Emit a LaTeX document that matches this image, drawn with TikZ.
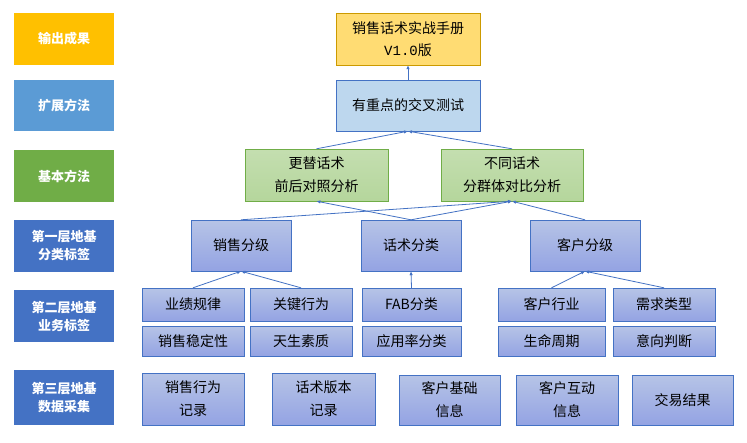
\documentclass[tikz,border=0pt]{standalone}
\usepackage{fontspec}
\setmainfont{Noto Sans CJK SC}
\newfontfamily\monof{Liberation Mono}
\usetikzlibrary{arrows.meta}
\definecolor{lorange}{HTML}{FFC000}
\definecolor{lblue}{HTML}{5B9BD5}
\definecolor{lgreen}{HTML}{70AD47}
\definecolor{ldblue}{HTML}{4472C4}
\definecolor{bfill}{HTML}{A4B5E0}
\definecolor{bline}{HTML}{4472C4}
\definecolor{gfill}{HTML}{B5D69C}
\definecolor{gline}{HTML}{70AD47}
\tikzset{
 lab/.style={inner sep=0pt,text=white,font=\fontsize{13}{18}\selectfont\bfseries,align=center},
 bbox/.style={draw=bline,top color=bfill!80!white,bottom color=bfill!90!blue,inner sep=0pt,align=center,font=\fontsize{14}{23}\selectfont},
 gbox/.style={draw=gline,top color=gfill!80!white,bottom color=gfill,inner sep=0pt,align=center,font=\fontsize{14}{23}\selectfont},
 obox/.style={draw=lorange!80!black,fill=lorange!55,inner sep=0pt,align=center,font=\fontsize{14}{22}\selectfont},
 tbox/.style={draw=bline,fill=lblue!40,inner sep=0pt,align=center,font=\fontsize{14}{22}\selectfont},
 arr/.style={-{Latex[length=4pt,width=3.5pt]},draw=ldblue,line width=0.8pt}
}
\newcommand\bx[7]{\node[#6,minimum width={(#4-#2)*1pt},minimum height={(#5-#3)*1pt}] (#1) at ({(#2+#4)/2},{(#3+#5)/2}) {#7};}
\begin{document}
\begin{tikzpicture}[x=1pt,y=-1pt]
\useasboundingbox[fill=white] (0,0) rectangle (747,442);
% left labels
\bx{l1}{14}{13}{114}{65}{lab,fill=lorange}{输出成果}
\bx{l2}{14}{80}{114}{131}{lab,fill=lblue}{扩展方法}
\bx{l3}{14}{150}{114}{202}{lab,fill=lgreen}{基本方法}
\bx{l4}{14}{220}{114}{272}{lab,fill=ldblue}{第一层地基\\分类标签}
\bx{l5}{14}{290}{114}{342}{lab,fill=ldblue}{第二层地基\\业务标签}
\bx{l6}{14}{370}{114}{425}{lab,fill=ldblue}{第三层地基\\数据采集}
% top
\bx{out}{336}{13}{480}{65}{obox}{销售话术实战手册\\{\monof V1.0}版}
\bx{ext}{336}{80}{480}{131}{tbox}{有重点的交叉测试}
\bx{g1}{245}{149}{388}{201}{gbox}{更替话术\\前后对照分析}
\bx{g2}{441}{149}{583}{201}{gbox}{不同话术\\分群体对比分析}
% level 1
\bx{s1}{191}{220}{291}{271}{bbox}{销售分级}
\bx{s2}{361}{220}{461}{271}{bbox}{话术分类}
\bx{s3}{530}{220}{640}{271}{bbox}{客户分级}
% level 2
\bx{a1}{142}{288}{244}{321}{bbox}{业绩规律}
\bx{a2}{250}{288}{352}{321}{bbox}{关键行为}
\bx{a3}{362}{288}{461}{321}{bbox}{FAB分类}
\bx{a4}{498}{288}{605}{321}{bbox}{客户行业}
\bx{a5}{613}{288}{715}{321}{bbox}{需求类型}
\bx{b1}{142}{326}{244}{356}{bbox}{销售稳定性}
\bx{b2}{250}{326}{352}{356}{bbox}{天生素质}
\bx{b3}{362}{326}{461}{356}{bbox}{应用率分类}
\bx{b4}{498}{326}{605}{356}{bbox}{生命周期}
\bx{b5}{613}{326}{715}{356}{bbox}{意向判断}
% level 3
\bx{c1}{142}{373}{244}{425}{bbox}{销售行为\\记录}
\bx{c2}{272}{373}{375}{425}{bbox}{话术版本\\记录}
\bx{c3}{399}{375}{500}{425}{bbox}{客户基础\\信息}
\bx{c4}{516}{375}{618}{425}{bbox}{客户互动\\信息}
\bx{c5}{632}{375}{733}{425}{bbox}{交易结果}
% arrows
\draw[arr] (ext.north) -- (out.south);
\draw[arr] (g1.north) -- (ext.south);
\draw[arr] (g2.north) -- (ext.south);
\draw[arr] (s1.north) -- (g2.south);
\draw[arr] (s2.north) -- (g1.south);
\draw[arr] (s2.north) -- (g2.south);
\draw[arr] (s3.north) -- (g2.south);
\draw[arr] (a1.north) -- (s1.south);
\draw[arr] (a2.north) -- (s1.south);
\draw[arr] (a3.north) -- (s2.south);
\draw[arr] (a4.north) -- (s3.south);
\draw[arr] (a5.north) -- (s3.south);
\end{tikzpicture}
\end{document}
